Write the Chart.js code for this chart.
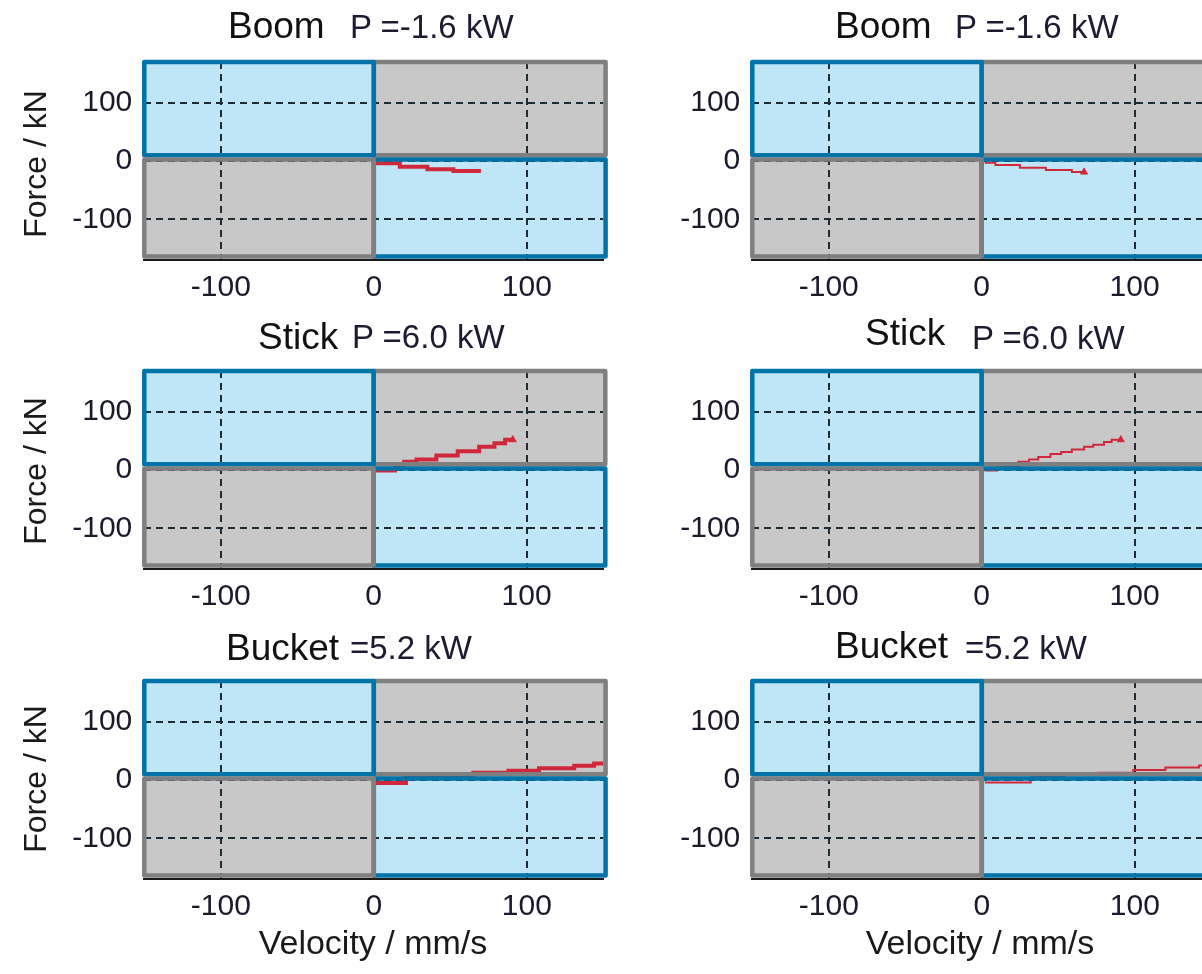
<!DOCTYPE html>
<html>
<head>
<meta charset="utf-8">
<script src="https://cdn.jsdelivr.net/npm/chart.js@4.4.1/dist/chart.umd.min.js"></script>
<style>
  html, body { margin: 0; padding: 0; background: #fff; overflow: hidden; }
  body { width: 1202px; height: 974px; position: relative; font-family: "Liberation Sans", Arial, sans-serif; }
  canvas { position: absolute; }
  .t { position: absolute; white-space: nowrap; line-height: 1; }
  .name { font-size: 37px; color: #111; }
  .pw { font-size: 33px; color: #1c1c30; }
  .lab { position: absolute; white-space: nowrap; line-height: 1; font-size: 32px; color: #1a1a1a; }
</style>
</head>
<body>
<script>
// axes
const xTicks = [-100, 0, 100];
const yTicks = [-100, 0, 100];
const xRange = [-150, 150];
const yRange = [-170, 170];

// quadrant patches, in draw order: top-right, bottom-right, top-left, bottom-left
const quadXMin = [0, 0, -150, -150];
const quadXMax = [151.5, 151.5, 0, 0];
const quadYMin = [10, -164, 10, -164];
const quadYMax = [170, 2.5, 170, 2.5];
const quadPower = [1, -1, -1, 1];   // sign of force * velocity

// trajectories (velocity mm/s, force kN)
const boomLV = [1, 17, 35, 52, 70];
const boomLF = [-4, -10, -14, -17, -17];
const boomRV = [2, 9, 25, 42, 59, 67];
const boomRF = [-3, -7, -11.5, -15.5, -19, -19];
const stickLV = [1, 14, 20, 28, 41, 55, 69, 79, 86, 91];
const stickLF = [-1, 6, 14, 18, 25, 32, 40, 46, 52, 52];
const stickRV = [2, 10, 24, 31, 37, 45, 52, 59, 67, 73, 80, 85, 91];
const stickRF = [-1, 6, 14, 18, 22.5, 27.5, 31, 35, 40, 43.5, 48, 52, 52];
const bucketLV = [1, 21, 45, 65, 88, 108, 131, 144, 154];
const bucketLF = [-5, 5, 8.5, 12.5, 16, 20, 24.5, 28.5, 28.5];
const bucketRV = [2, 32, 54, 76, 99, 120, 142, 152];
const bucketRF = [-4.5, 5, 8.5, 12.5, 17, 21.5, 25, 25];

const joints = ['Boom', 'Boom', 'Stick', 'Stick', 'Bucket', 'Bucket'];
const powers = ['P =-1.6 kW', 'P =-1.6 kW', 'P =6.0 kW', 'P =6.0 kW', '=5.2 kW', '=5.2 kW'];
const panelV = [boomLV, boomRV, stickLV, stickRV, bucketLV, bucketRV];
const panelF = [boomLF, boomRF, stickLF, stickRF, bucketLF, bucketRF];
const endMarker = [false, true, true, true, false, false];

// layout
const colLeft = [0, 608];
const rowTop = [0, 309, 619];
const nameAt = [[228, 6.7], [835, 6.7], [258, 317.7], [865, 313.7], [226, 628.7], [835, 626.7]];
const powAt = [[350, 10.1], [955, 10.1], [352, 320.1], [972, 321.1], [350, 631.1], [965, 631.1]];

const FONT = '"Liberation Sans", Arial, sans-serif';
const gridColor = '#1f2b33';
const quadFill = { '1': '#c8c8c8', '-1': '#bfe6f7' };
const quadEdge = { '1': '#7f7f7f', '-1': '#0073a8' };

const quadrants = {
  id: 'quadrants',
  beforeDraw(chart) {
    const { ctx, scales: { x, y } } = chart;
    ctx.save();
    quadPower.forEach((p, i) => {
      const x0 = x.getPixelForValue(quadXMin[i]), x1 = x.getPixelForValue(quadXMax[i]);
      const y0 = y.getPixelForValue(quadYMax[i]), y1 = y.getPixelForValue(quadYMin[i]);
      ctx.fillStyle = quadFill[p];
      ctx.fillRect(x0, y0, x1 - x0, y1 - y0);
    });
    ctx.restore();
  },
  afterDatasetsDraw(chart) {
    const { ctx, scales: { x, y } } = chart;
    ctx.save();
    ctx.lineWidth = 4.5;
    ctx.lineJoin = 'round';
    quadPower.forEach((p, i) => {
      const x0 = x.getPixelForValue(quadXMin[i]), x1 = x.getPixelForValue(quadXMax[i]);
      const y0 = y.getPixelForValue(quadYMax[i]), y1 = y.getPixelForValue(quadYMin[i]);
      ctx.strokeStyle = quadEdge[p];
      ctx.strokeRect(x0, y0, x1 - x0, y1 - y0);
    });
    ctx.restore();
  }
};

function addText(cls, txt, left, top) {
  const d = document.createElement('div');
  d.className = cls;
  d.textContent = txt;
  d.style.left = left + 'px';
  d.style.top = top + 'px';
  document.body.appendChild(d);
  return d;
}

panelV.forEach((vel, k) => {
  const col = k % 2, row = Math.floor(k / 2);
  const cv = document.createElement('canvas');
  cv.width = 608; cv.height = 310;
  cv.style.left = colLeft[col] + 'px';
  cv.style.top = rowTop[row] + 'px';
  document.body.appendChild(cv);

  const last = vel.length - 1;
  new Chart(cv, {
    type: 'line',
    data: {
      datasets: [{
        data: vel.map((v, i) => ({ x: v, y: panelF[k][i] })),
        stepped: true,
        borderColor: '#d0283a',
        backgroundColor: '#d0283a',
        borderWidth: col === 0 ? 4 : 2,
        pointStyle: 'triangle',
        pointRadius: c => (endMarker[k] && c.dataIndex === last) ? 4 : 0,
        pointBorderWidth: 1
      }]
    },
    options: {
      responsive: false,
      animation: false,
      layout: { padding: { top: 62, left: 0, right: 4.7, bottom: 0 } },
      plugins: { legend: { display: false }, tooltip: { enabled: false } },
      scales: {
        x: {
          type: 'linear', min: xRange[0], max: xRange[1],
          afterBuildTicks: s => { s.ticks = xTicks.map(v => ({ value: v })); },
          afterFit: s => { s.height = 50; },
          grid: { color: gridColor, lineWidth: 2, drawTicks: false },
          border: { display: true, color: '#1a1a1a', width: 2, dash: [7, 5] },
          ticks: { padding: 10, color: '#1a1a2a', autoSkip: false, maxRotation: 0, font: { family: FONT, size: 30 } }
        },
        y: {
          type: 'linear', min: yRange[0], max: yRange[1],
          afterBuildTicks: s => { s.ticks = yTicks.map(v => ({ value: v })); },
          afterFit: s => { s.width = 144.3; },
          grid: { color: gridColor, lineWidth: 2, drawTicks: false },
          border: { display: false, dash: [7, 5] },
          ticks: { padding: 12, color: '#1a1a2a', autoSkip: false, font: { family: FONT, size: 30 } }
        }
      }
    },
    plugins: [quadrants]
  });

  addText('t name', joints[k], nameAt[k][0], nameAt[k][1]);
  addText('t pw', powers[k], powAt[k][0], powAt[k][1]);
});

// axis labels
[164, 471, 779].forEach(cy => {
  const d = addText('lab', 'Force / kN', 35, cy);
  d.style.transform = 'translate(-50%, -50%) rotate(-90deg)';
});
[373, 980].forEach(cx => {
  const d = addText('lab', 'Velocity / mm/s', cx, 942);
  d.style.fontSize = '34px';
  d.style.transform = 'translate(-50%, -50%)';
});
</script>
</body>
</html>
